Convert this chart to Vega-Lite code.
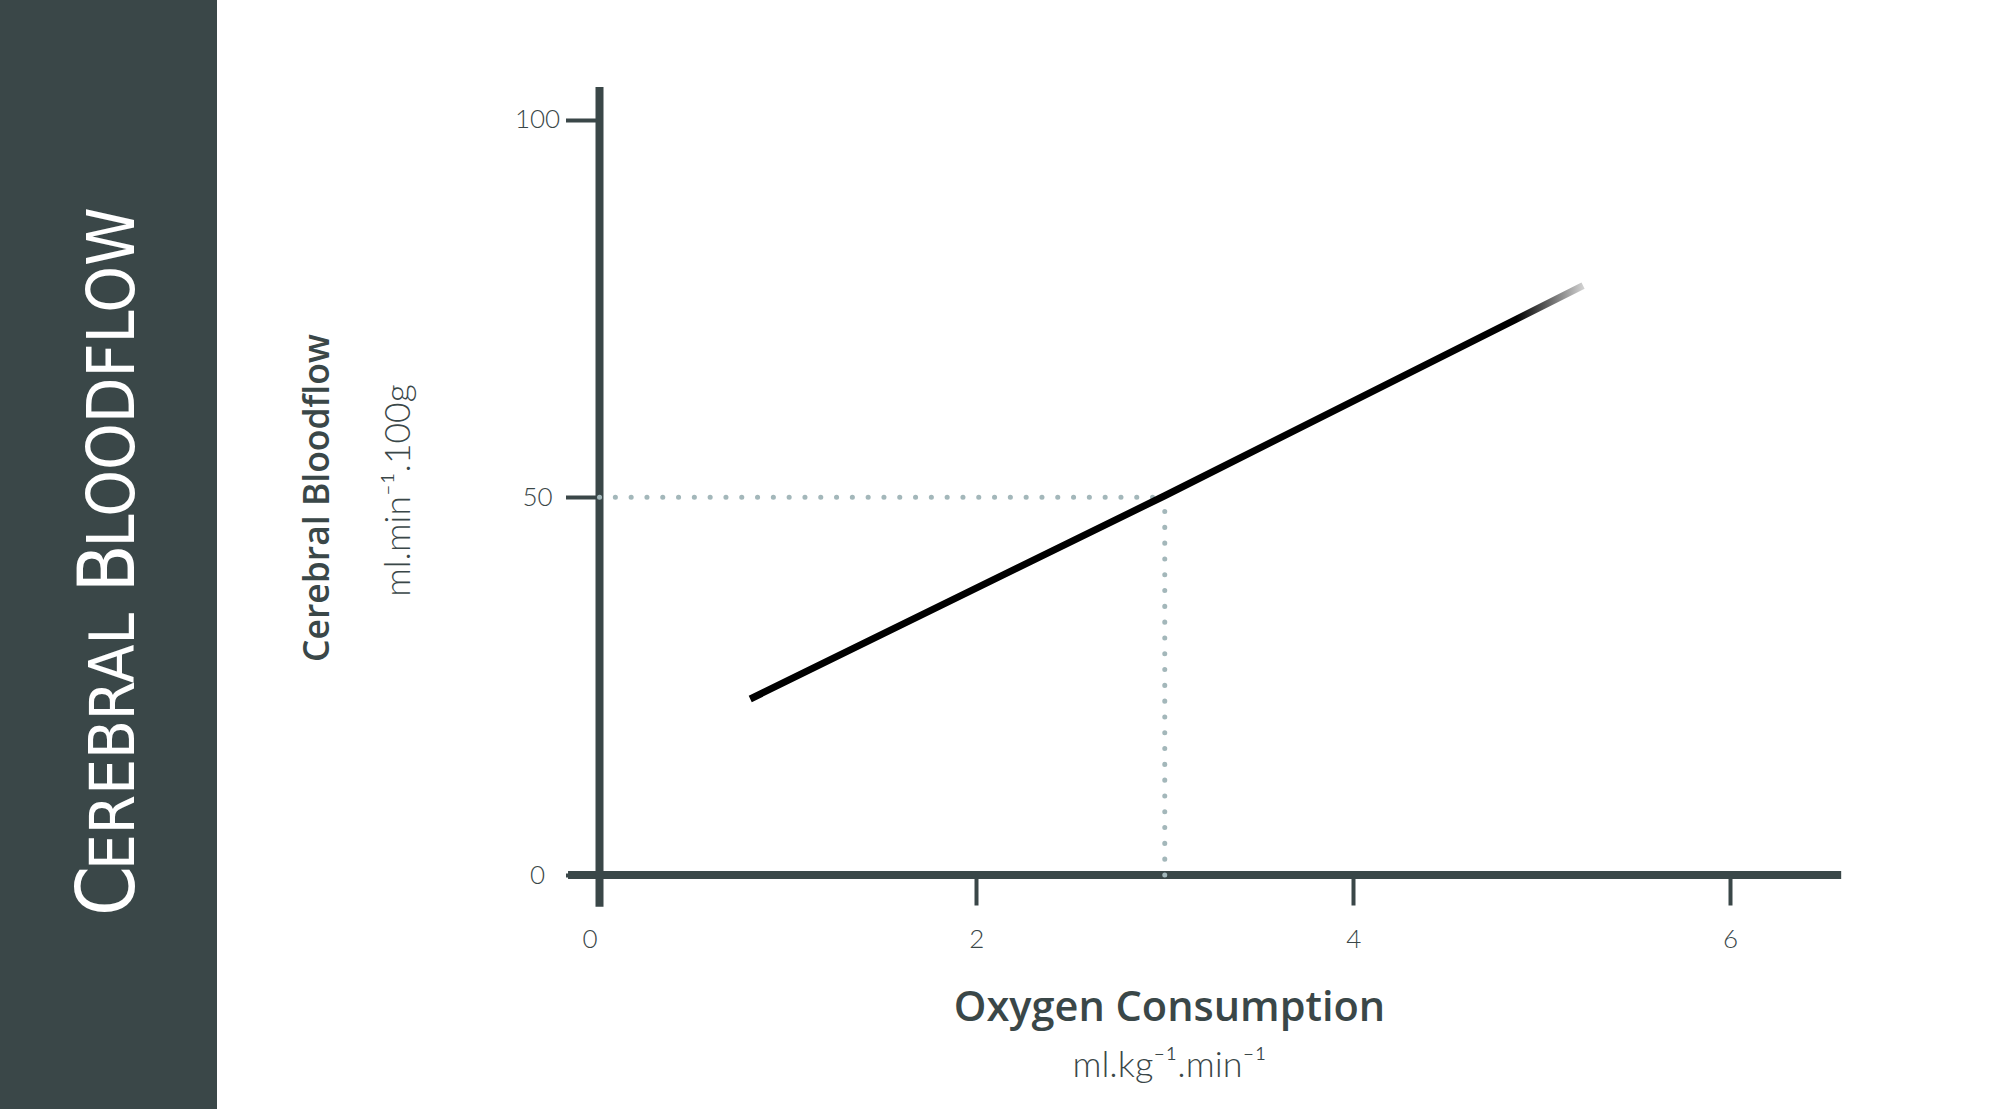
{
  "$schema": "https://vega.github.io/schema/vega-lite/v6.json",
  "padding": 0,
  "spacing": 0,
  "background": "white",
  "config": {"view": {"stroke": null}},
  "datasets": {
    "axislines": [
      {"x": -0.167, "x2": 6.59, "y": 0, "y2": 0},
      {"x": 0, "x2": 0, "y": -4.2, "y2": 104.3}
    ],
    "guides": [
      {"x": 0, "x2": 3, "y": 50, "y2": 50},
      {"x": 3, "x2": 3, "y": 0, "y2": 50}
    ],
    "relation": [
      {"o2": 0.8, "cbf": 23.3},
      {"o2": 3.0, "cbf": 50.2},
      {"o2": 5.22, "cbf": 78.0}
    ],
    "blank": [{}]
  },
  "hconcat": [
    {
      "width": 217,
      "height": 1109,
      "view": {"fill": "#3a4748", "stroke": null},
      "data": {"name": "blank"},
      "layer": [
        {"mark": {"type": "text", "text": "C", "angle": 270, "align": "left", "baseline": "alphabetic", "dx": -361.5, "dy": 25.5, "font": "Liberation Sans Narrow, DejaVu Sans Condensed, Roboto Condensed, sans-serif", "fontSize": 80, "color": "white"}, "encoding": {}},
        {"mark": {"type": "text", "text": "EREBRAL", "angle": 270, "align": "left", "baseline": "alphabetic", "dx": -315.5, "dy": 25.5, "font": "Liberation Sans Narrow, DejaVu Sans Condensed, Roboto Condensed, sans-serif", "fontSize": 63, "color": "white"}, "encoding": {}},
        {"mark": {"type": "text", "text": "B", "angle": 270, "align": "left", "baseline": "alphabetic", "dx": -38, "dy": 25.5, "font": "Liberation Sans Narrow, DejaVu Sans Condensed, Roboto Condensed, sans-serif", "fontSize": 78, "color": "white"}, "encoding": {}},
        {"mark": {"type": "text", "text": "LOODFLOW", "angle": 270, "align": "left", "baseline": "alphabetic", "dx": 7, "dy": 25.5, "font": "Liberation Sans Narrow, DejaVu Sans Condensed, Roboto Condensed, sans-serif", "fontSize": 66, "color": "white"}, "encoding": {}}
      ]
    },
    {
      "width": 1783,
      "height": 1109,
      "view": {"fill": "white", "stroke": null},
      "layer": [
        {
          "data": {"name": "axislines"},
          "mark": {"type": "rule", "color": "#3a4748", "strokeWidth": 8, "strokeCap": "butt"},
          "encoding": {
            "x": {"field": "x", "type": "quantitative", "scale": {"domain": [-2.0301, 7.4329], "nice": false, "zero": false},
              "axis": {"orient": "bottom", "offset": -234, "values": [0, 2, 4, 6], "domain": false, "grid": false, "tickSize": 30, "tickWidth": 4, "tickColor": "#3a4748", "labelFlush": false, "labelPadding": 21, "labelOffset": {"condition": {"test": "datum.value === 0", "value": -10}, "value": 0}, "labelFont": "Lato", "labelFontWeight": 300, "labelFontSize": 26, "labelColor": "#3a4748", "title": "Oxygen Consumption", "titleFont": "Open Sans", "titleFontWeight": 600, "titleFontSize": 41.5, "titleColor": "#3a4748", "titleAlign": "center", "titleBaseline": "alphabetic", "titleAngle": 0, "titleX": 952, "titleY": 145}},
            "x2": {"field": "x2"},
            "y": {"field": "y", "type": "quantitative", "scale": {"domain": [-30.97, 115.82], "nice": false, "zero": false},
              "axis": {"orient": "left", "offset": -382.5, "values": [0, 50, 100], "domain": false, "grid": false, "tickSize": 34, "tickWidth": 4, "tickColor": "#3a4748", "labelFlush": false, "labelAlign": "center", "labelBaseline": "middle", "labelPadding": 28.5, "labelFont": "Lato", "labelFontWeight": 300, "labelFontSize": 26, "labelColor": "#3a4748", "title": "Cerebral Bloodflow", "titleFont": "Open Sans", "titleFontWeight": 600, "titleFontSize": 35.5, "titleColor": "#3a4748", "titleAngle": 270, "titleAlign": "center", "titleBaseline": "alphabetic", "titleX": -271.5, "titleY": 497.5}},
            "y2": {"field": "y2"}
          }
        },
        {
          "data": {"name": "guides"},
          "mark": {"type": "rule", "color": "#a3b7ba", "strokeWidth": 5, "strokeCap": "round", "strokeDash": [0.1, 15.7]},
          "encoding": {
            "x": {"field": "x", "type": "quantitative", "scale": {"domain": [-2.0301, 7.4329], "nice": false, "zero": false}, "axis": null},
            "x2": {"field": "x2"},
            "y": {"field": "y", "type": "quantitative", "scale": {"domain": [-30.97, 115.82], "nice": false, "zero": false}, "axis": null},
            "y2": {"field": "y2"}
          }
        },
        {
          "data": {"name": "relation"},
          "mark": {"type": "line", "strokeWidth": 7, "strokeCap": "butt",
            "color": {"gradient": "linear", "x1": 0, "y1": 0, "x2": 1, "y2": 0, "stops": [{"offset": 0, "color": "#000000"}, {"offset": 0.92, "color": "#000000"}, {"offset": 1, "color": "#d0d0d0"}]}},
          "encoding": {
            "x": {"field": "o2", "type": "quantitative", "scale": {"domain": [-2.0301, 7.4329], "nice": false, "zero": false},
              "axis": {"orient": "bottom", "offset": -234, "domain": false, "ticks": false, "labels": false, "grid": false, "title": "ml.kg⁻¹.min⁻¹", "titleFont": "Lato", "titleFontWeight": 300, "titleFontSize": 36, "titleColor": "#3a4748", "titleAlign": "center", "titleBaseline": "alphabetic", "titleAngle": 0, "titleX": 952, "titleY": 201}},
            "y": {"field": "cbf", "type": "quantitative", "scale": {"domain": [-30.97, 115.82], "nice": false, "zero": false},
              "axis": {"orient": "left", "offset": -382.5, "domain": false, "ticks": false, "labels": false, "grid": false, "title": "ml.min⁻¹.100g", "titleFont": "Lato", "titleFontWeight": 300, "titleFontSize": 35.5, "titleColor": "#3a4748", "titleAngle": 270, "titleAlign": "center", "titleBaseline": "alphabetic", "titleX": -190, "titleY": 490}}
          }
        }
      ],
      "resolve": {"axis": {"x": "independent", "y": "independent"}}
    }
  ]
}
